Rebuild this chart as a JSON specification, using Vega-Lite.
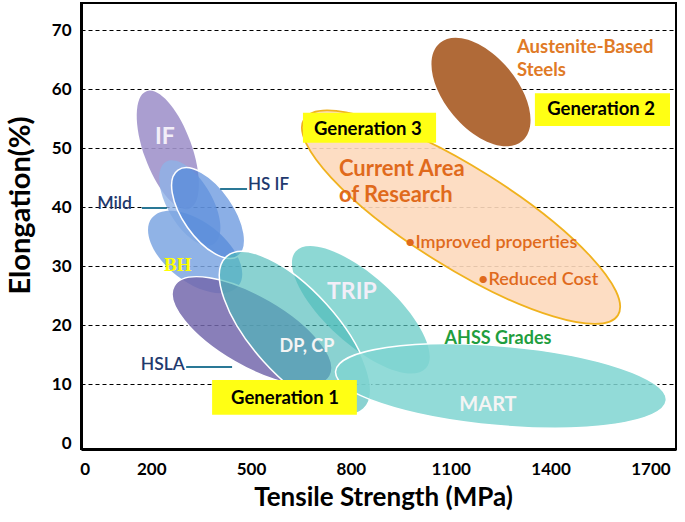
{
  "$schema": "https://vega.github.io/schema/vega-lite/v6.json",
  "width": 595,
  "height": 446,
  "autosize": {"type": "none"},
  "padding": {"left": 81, "top": 3, "right": 9, "bottom": 73},
  "config": {"view": {"stroke": "black", "strokeWidth": 2}, "font": "Lato"},
  "datasets": {
    "ell": [
      {"name": "Gen3", "x": 1131, "y": 38.3},
      {"name": "Aust", "x": 1191, "y": 59.5},
      {"name": "IF", "x": 250, "y": 49.7},
      {"name": "Mild", "x": 316, "y": 40.7},
      {"name": "BH", "x": 332, "y": 32.4},
      {"name": "HSIF", "x": 371, "y": 39.0},
      {"name": "HSLA", "x": 503, "y": 19.0},
      {"name": "TRIP", "x": 830, "y": 22.6},
      {"name": "DPCP", "x": 632, "y": 18.7},
      {"name": "MART", "x": 1251, "y": 9.7}
    ],
    "boxes": [
      {"label": "Generation 1", "x": 383, "x2": 818, "y": 4.8, "y2": 10.7},
      {"label": "Generation 2", "x": 1353, "x2": 1759, "y": 53.75, "y2": 59.3},
      {"label": "Generation 3", "x": 656, "x2": 1056, "y": 50.9, "y2": 56.0}
    ],
    "gens": [
      {"label": "Generation 1", "x": 602, "y": 7.6},
      {"label": "Generation 2", "x": 1552, "y": 56.6},
      {"label": "Generation 3", "x": 851, "y": 53.2}
    ],
    "leaders": [
      {"label": "Mild", "x": 172, "x2": 247, "y": 39.85},
      {"label": "HS IF", "x": 407, "x2": 488, "y": 43.07},
      {"label": "HSLA", "x": 305, "x2": 443, "y": 12.9}
    ],
    "navyR": [
      {"label": "Mild", "x": 142, "y": 40.5},
      {"label": "HSLA", "x": 301, "y": 13.2}
    ],
    "navyL": [
      {"label": "HS IF", "x": 491, "y": 43.75}
    ],
    "white": [
      {"label": "IF", "x": 241, "y": 51.9, "s": "big"},
      {"label": "TRIP", "x": 803, "y": 25.6, "s": "big"},
      {"label": "DP, CP", "x": 668, "y": 16.3, "s": "small"},
      {"label": "MART", "x": 1212, "y": 6.4, "s": "mid"}
    ],
    "orangeBig": [
      {"label": "Current Area", "x": 764, "y": 46.5},
      {"label": "of Research", "x": 764, "y": 42.05}
    ],
    "orangeSmall": [
      {"label": "•Improved properties", "x": 963, "y": 33.9},
      {"label": "•Reduced Cost", "x": 1182, "y": 27.6}
    ],
    "aust": [
      {"label": "Austenite-Based", "x": 1299, "y": 67.1},
      {"label": "Steels", "x": 1299, "y": 63.2}
    ],
    "green": [{"label": "AHSS Grades", "x": 1242, "y": 17.6}],
    "bh": [{"label": "BH", "x": 280, "y": 30.2}]
  },
  "encoding": {
    "x": {
      "field": "x", "type": "quantitative",
      "scale": {"domain": [-11, 1777], "nice": false, "zero": false},
      "axis": {
        "values": [0, 200, 500, 800, 1100, 1400, 1700],
        "format": "d",
        "title": "Tensile Strength (MPa)",
        "titleFont": "Lato", "titleFontSize": 26, "titleFontWeight": "bold", "titleColor": "black",
        "titleX": 302, "titleY": 48, "titleBaseline": "middle",
        "labelFont": "Lato", "labelFontSize": 17, "labelFontWeight": "bold", "labelColor": "black",
        "labelPadding": 12, "ticks": false, "grid": false,
        "domainColor": "black", "domainWidth": 3
      }
    },
    "y": {
      "field": "y", "type": "quantitative",
      "scale": {"domain": [-1, 74.6], "nice": false, "zero": false},
      "axis": {
        "values": [0, 10, 20, 30, 40, 50, 60, 70],
        "title": "Elongation(%)",
        "titleFont": "Lato", "titleFontSize": 29, "titleFontWeight": "bold", "titleColor": "black",
        "titleX": -61, "titleY": 202, "titleBaseline": "middle", "titleAlign": "center", "titleAngle": -90,
        "labelFont": "Lato", "labelFontSize": 17, "labelFontWeight": "bold", "labelColor": "black",
        "labelPadding": 10, "ticks": false,
        "grid": true, "gridColor": "black", "gridDash": [4, 3], "gridWidth": 1.2,
        "gridOpacity": {"condition": {"test": "datum.value === 0", "value": 0}, "value": 1},
        "domainColor": "black", "domainWidth": 3
      }
    }
  },
  "layer": [
    {
      "data": {"name": "ell"}, "transform": [{"filter": "datum.name === 'Gen3'"}],
      "mark": {"type": "point", "filled": true, "shape": "M-1,0C-1,-0.149,-0.5523,-0.27,0,-0.27C0.5523,-0.27,1,-0.149,1,0C1,0.149,0.5523,0.27,0,0.27C-0.5523,0.27,-1,0.149,-1,0Z", "size": 136900, "angle": 32, "fill": "#fdd9bd", "fillOpacity": 0.9, "stroke": "#f0b21e", "strokeWidth": 1.8, "strokeOpacity": 1}
    },
    {
      "data": {"name": "ell"}, "transform": [{"filter": "datum.name === 'Aust'"}],
      "mark": {"type": "point", "filled": true, "shape": "M-1,0C-1,-0.311,-0.5523,-0.5625,0,-0.5625C0.5523,-0.5625,1,-0.311,1,0C1,0.311,0.5523,0.5625,0,0.5625C-0.5523,0.5625,-1,0.311,-1,0Z", "size": 16384, "angle": 50, "fill": "#b06a38", "fillOpacity": 1, "strokeWidth": 0}
    },
    {
      "data": {"name": "ell"}, "transform": [{"filter": "datum.name === 'IF'"}],
      "mark": {"type": "point", "filled": true, "shape": "M-1,0C-1,-0.212,-0.5523,-0.384,0,-0.384C0.5523,-0.384,1,-0.212,1,0C1,0.212,0.5523,0.384,0,0.384C-0.5523,0.384,-1,0.212,-1,0Z", "size": 15625, "angle": 70, "fill": "#a193cb", "fillOpacity": 0.9, "strokeWidth": 0}
    },
    {
      "data": {"name": "ell"}, "transform": [{"filter": "datum.name === 'Mild'"}],
      "mark": {"type": "point", "filled": true, "shape": "M-1,0C-1,-0.26,-0.5523,-0.47,0,-0.47C0.5523,-0.47,1,-0.26,1,0C1,0.26,0.5523,0.47,0,0.47C-0.5523,0.47,-1,0.26,-1,0Z", "size": 9025, "angle": 60, "fill": "#8fb2e6", "fillOpacity": 0.8, "strokeWidth": 0}
    },
    {
      "data": {"name": "ell"}, "transform": [{"filter": "datum.name === 'BH'"}],
      "mark": {"type": "point", "filled": true, "shape": "M-1,0C-1,-0.301,-0.5523,-0.545,0,-0.545C0.5523,-0.545,1,-0.301,1,0C1,0.301,0.5523,0.545,0,0.545C-0.5523,0.545,-1,0.301,-1,0Z", "size": 12100, "angle": 38, "fill": "#7da6e2", "fillOpacity": 0.85, "strokeWidth": 0}
    },
    {
      "data": {"name": "ell"}, "transform": [{"filter": "datum.name === 'HSIF'"}],
      "mark": {"type": "point", "filled": true, "shape": "M-1,0C-1,-0.265,-0.5523,-0.48,0,-0.48C0.5523,-0.48,1,-0.265,1,0C1,0.265,0.5523,0.48,0,0.48C-0.5523,0.48,-1,0.265,-1,0Z", "size": 11025, "angle": 55, "fill": "#4d84d8", "fillOpacity": 0.65, "stroke": "white", "strokeWidth": 1.5, "strokeOpacity": 1}
    },
    {
      "data": {"name": "ell"}, "transform": [{"filter": "datum.name === 'HSLA'"}],
      "mark": {"type": "point", "filled": true, "shape": "M-1,0C-1,-0.215,-0.5523,-0.39,0,-0.39C0.5523,-0.39,1,-0.215,1,0C1,0.215,0.5523,0.39,0,0.39C-0.5523,0.39,-1,0.215,-1,0Z", "size": 32400, "angle": 30, "fill": "#7469ad", "fillOpacity": 0.85, "stroke": "white", "strokeWidth": 1.5, "strokeOpacity": 1}
    },
    {
      "data": {"name": "ell"}, "transform": [{"filter": "datum.name === 'TRIP'"}],
      "mark": {"type": "point", "filled": true, "shape": "M-1,0C-1,-0.215,-0.5523,-0.39,0,-0.39C0.5523,-0.39,1,-0.215,1,0C1,0.215,0.5523,0.39,0,0.39C-0.5523,0.39,-1,0.215,-1,0Z", "size": 30625, "angle": 42, "fill": "#5cc8c2", "fillOpacity": 0.7, "strokeWidth": 0}
    },
    {
      "data": {"name": "ell"}, "transform": [{"filter": "datum.name === 'DPCP'"}],
      "mark": {"type": "point", "filled": true, "shape": "M-1,0C-1,-0.229,-0.5523,-0.415,0,-0.415C0.5523,-0.415,1,-0.229,1,0C1,0.229,0.5523,0.415,0,0.415C-0.5523,0.415,-1,0.229,-1,0Z", "size": 42025, "angle": 48, "fill": "#4bbab8", "fillOpacity": 0.65, "stroke": "white", "strokeWidth": 1.5, "strokeOpacity": 1}
    },
    {
      "data": {"name": "ell"}, "transform": [{"filter": "datum.name === 'MART'"}],
      "mark": {"type": "point", "filled": true, "shape": "M-1,0C-1,-0.133,-0.5523,-0.24,0,-0.24C0.5523,-0.24,1,-0.133,1,0C1,0.133,0.5523,0.24,0,0.24C-0.5523,0.24,-1,0.133,-1,0Z", "size": 110224, "angle": 5, "fill": "#7fd5d1", "fillOpacity": 0.85, "stroke": "white", "strokeWidth": 1.5, "strokeOpacity": 1}
    },
    {
      "data": {"name": "boxes"},
      "mark": {"type": "rect", "color": "#ffff14"},
      "encoding": {"x2": {"field": "x2"}, "y2": {"field": "y2"}}
    },
    {
      "data": {"name": "gens"},
      "mark": {"type": "text", "font": "Lato", "fontWeight": "bold", "fontSize": 18.5, "color": "black", "align": "center", "baseline": "middle"},
      "encoding": {"text": {"field": "label"}}
    },
    {
      "data": {"name": "leaders"},
      "mark": {"type": "rule", "color": "#2a7896", "strokeWidth": 2},
      "encoding": {"x2": {"field": "x2"}}
    },
    {
      "data": {"name": "navyR"},
      "mark": {"type": "text", "font": "Lato", "fontWeight": 600, "fontSize": 17.5, "color": "#1f3a6e", "align": "right", "baseline": "middle"},
      "encoding": {"text": {"field": "label"}}
    },
    {
      "data": {"name": "navyL"},
      "mark": {"type": "text", "font": "Lato", "fontWeight": 600, "fontSize": 17, "color": "#1f3a6e", "align": "left", "baseline": "middle"},
      "encoding": {"text": {"field": "label"}}
    },
    {
      "data": {"name": "white"}, "transform": [{"filter": "datum.s === 'big'"}],
      "mark": {"type": "text", "font": "Lato", "fontWeight": "bold", "fontSize": 23, "color": "#f2eef8", "align": "center", "baseline": "middle"},
      "encoding": {"text": {"field": "label"}}
    },
    {
      "data": {"name": "white"}, "transform": [{"filter": "datum.s === 'mid'"}],
      "mark": {"type": "text", "font": "Lato", "fontWeight": "bold", "fontSize": 20, "color": "#f4f4f4", "align": "center", "baseline": "middle"},
      "encoding": {"text": {"field": "label"}}
    },
    {
      "data": {"name": "white"}, "transform": [{"filter": "datum.s === 'small'"}],
      "mark": {"type": "text", "font": "Lato", "fontWeight": "bold", "fontSize": 18, "color": "#f4f4f4", "align": "center", "baseline": "middle"},
      "encoding": {"text": {"field": "label"}}
    },
    {
      "data": {"name": "orangeBig"},
      "mark": {"type": "text", "font": "Lato", "fontWeight": "bold", "fontSize": 22, "color": "#e06a1c", "align": "left", "baseline": "middle"},
      "encoding": {"text": {"field": "label"}}
    },
    {
      "data": {"name": "orangeSmall"},
      "mark": {"type": "text", "font": "Lato", "fontWeight": 600, "fontSize": 18, "color": "#e06a1c", "align": "left", "baseline": "middle"},
      "encoding": {"text": {"field": "label"}}
    },
    {
      "data": {"name": "aust"},
      "mark": {"type": "text", "font": "Lato", "fontWeight": "bold", "fontSize": 18.5, "color": "#e07a26", "align": "left", "baseline": "middle"},
      "encoding": {"text": {"field": "label"}}
    },
    {
      "data": {"name": "green"},
      "mark": {"type": "text", "font": "Lato", "fontWeight": "bold", "fontSize": 18, "color": "#1f9e3e", "align": "center", "baseline": "middle"},
      "encoding": {"text": {"field": "label"}}
    },
    {
      "data": {"name": "bh"},
      "mark": {"type": "text", "font": "Liberation Serif", "fontWeight": "bold", "fontSize": 19, "color": "#ffff00", "align": "center", "baseline": "middle"},
      "encoding": {"text": {"field": "label"}}
    }
  ]
}
